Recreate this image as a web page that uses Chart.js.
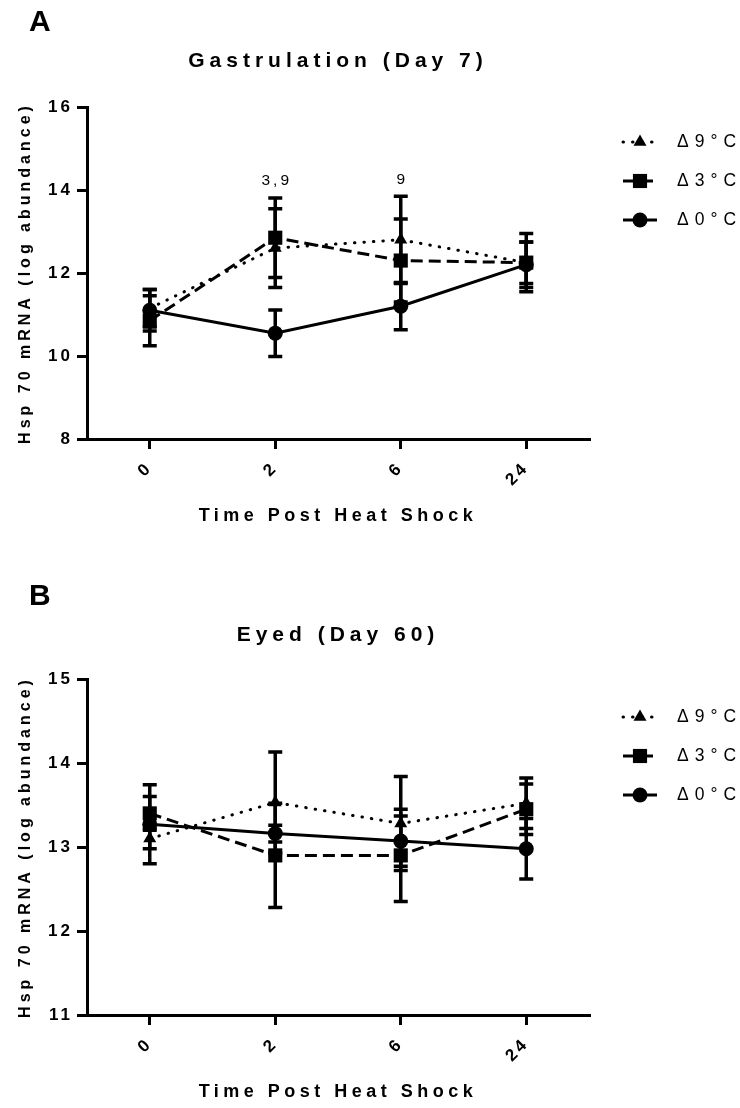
<!DOCTYPE html>
<html lang="en">
<head>
<meta charset="UTF-8">
<title>Hsp 70 mRNA after heat shock</title>
<script src="https://cdn.jsdelivr.net/npm/chart.js@4"></script>
<style>
  html, body { margin: 0; padding: 0; background: #fff; }
  body { width: 740px; height: 1108px; overflow: hidden; position: relative; }
  .panel { position: absolute; left: 0; width: 740px; }
  #panelA { top: 0; height: 574px; }
  #panelB { top: 574px; height: 534px; }
</style>
</head>
<body>
<div class="panel" id="panelA"><canvas id="chartA"></canvas></div>
<div class="panel" id="panelB"><canvas id="chartB"></canvas></div>
<script>
// hours after the heat shock
const hours = ['0', '2', '6', '24'];
const seriesNames = ['\u03949\u00b0C', '\u03943\u00b0C', '\u03940\u00b0C'];

// gastrulation (day 7), log abundance mean and SEM
const gastD9 = [11.15, 12.6, 12.8, 12.25];
const gastD9Err = [0.45, 0.95, 1.05, 0.5];
const gastD3 = [10.85, 12.85, 12.3, 12.25];
const gastD3Err = [0.6, 0.96, 1.0, 0.7];
const gastD0 = [11.1, 10.55, 11.2, 12.2];
const gastD0Err = [0.5, 0.56, 0.57, 0.55];
const gastSig = ['', '3,9', '9', ''];
const gastTicks = [8, 10, 12, 14, 16];

// eyed (day 60)
const eyedD9 = [13.1, 13.53, 13.28, 13.52];
const eyedD9Err = [0.12, 0.6, 0.56, 0.3];
const eyedD3 = [13.4, 12.9, 12.9, 13.45];
const eyedD3Err = [0.2, 0.62, 0.55, 0.3];
const eyedD0 = [13.27, 13.16, 13.07, 12.98];
const eyedD0Err = [0.47, 0.1, 0.3, 0.36];
const eyedSig = ['', '', '', ''];
const eyedTicks = [11, 12, 13, 14, 15];

const FONT = "'Liberation Sans', Arial, sans-serif";
Chart.defaults.font.family = FONT;
Chart.defaults.color = '#000';

// dotted / dashed / solid, one per temperature
const marks = [
  { style: 'triangle', radius: 7.5, dash: [0.5, 9], cap: 'round' },
  { style: 'rect', radius: 10, dash: [12, 6], cap: 'butt' },
  { style: 'circle', radius: 7.5, dash: [], cap: 'butt' }
];

// letter spacing (px) for the chart's own text, by font size
const tracking = { 21: 5, 18: 4.5, 17: 3, 16: 4 };

const spacing = {
  id: 'spacing',
  afterInit(chart) {
    const ctx = chart.ctx;
    const fill = ctx.fillText;
    const measure = ctx.measureText;
    const track = () => {
      const m = /(\d+(?:\.\d+)?)px/.exec(ctx.font);
      if (m && tracking[m[1]] !== undefined) ctx.letterSpacing = tracking[m[1]] + 'px';
    };
    ctx.fillText = function (...a) { track(); return fill.apply(ctx, a); };
    ctx.measureText = function (...a) { track(); return measure.apply(ctx, a); };
  }
};

const errorBars = {
  id: 'errorBars',
  beforeDatasetsDraw(chart) {
    const { ctx, scales: { x, y } } = chart;
    ctx.save();
    ctx.strokeStyle = '#000';
    ctx.lineWidth = 3.5;
    chart.data.datasets.forEach(ds => {
      ds.data.forEach((v, i) => {
        const px = x.getPixelForValue(i);
        const top = y.getPixelForValue(v + ds.errors[i]);
        const bot = y.getPixelForValue(v - ds.errors[i]);
        ctx.beginPath();
        ctx.moveTo(px, top); ctx.lineTo(px, bot);
        ctx.moveTo(px - 7, top); ctx.lineTo(px + 7, top);
        ctx.moveTo(px - 7, bot); ctx.lineTo(px + 7, bot);
        ctx.stroke();
      });
    });
    ctx.restore();
  }
};

// "3,9" style notes above the tallest error bar
const sigLabels = {
  id: 'sigLabels',
  afterDatasetsDraw(chart, args, opts) {
    const { ctx, scales: { x, y } } = chart;
    ctx.save();
    ctx.letterSpacing = '3px';
    ctx.font = '15.5px ' + FONT;
    ctx.fillStyle = '#000';
    ctx.textAlign = 'center';
    ctx.textBaseline = 'middle';
    (opts.labels || []).forEach((txt, i) => {
      if (!txt) return;
      const tops = chart.data.datasets.map(ds => y.getPixelForValue(ds.data[i] + ds.errors[i]));
      ctx.fillText(txt, x.getPixelForValue(i) + 1.5, Math.min(...tops) - 17);
    });
    ctx.restore();
  }
};

const sideLegend = {
  id: 'sideLegend',
  afterDraw(chart, args, opts) {
    const { ctx, chartArea } = chart;
    ctx.save();
    chart.data.datasets.forEach((ds, i) => {
      const yy = chartArea.top + opts.top + i * opts.gap;
      const m = marks[i];
      ctx.strokeStyle = '#000';
      ctx.fillStyle = '#000';
      ctx.lineWidth = 3;
      ctx.lineCap = m.cap;
      ctx.setLineDash(m.dash);
      ctx.beginPath();
      ctx.moveTo(opts.x, yy);
      ctx.lineTo(opts.x + 34, yy);
      ctx.stroke();
      ctx.setLineDash([]);
      Chart.helpers.drawPoint(ctx, { pointStyle: m.style, rotation: 0, radius: m.radius, borderWidth: 0 }, opts.x + 17, yy);
      ctx.letterSpacing = '6px';
      ctx.font = '17.5px ' + FONT;
      ctx.textAlign = 'left';
      ctx.textBaseline = 'middle';
      ctx.fillText(ds.label, opts.x + 54, yy);
    });
    ctx.restore();
  }
};

const panelLetter = {
  id: 'panelLetter',
  afterDraw(chart, args, opts) {
    const { ctx } = chart;
    ctx.save();
    ctx.letterSpacing = '0px';
    ctx.font = "bold 30px 'Liberation Sans Narrow', " + FONT;
    ctx.fillStyle = '#000';
    ctx.textBaseline = 'middle';
    ctx.fillText(opts.text, 29, 23);
    ctx.restore();
  }
};

function makePanel(canvasId, p) {
  const datasets = p.means.map((m, i) => ({
    label: seriesNames[i],
    data: m,
    errors: p.errors[i],
    borderColor: '#000',
    backgroundColor: '#000',
    borderWidth: 3,
    borderDash: marks[i].dash,
    borderCapStyle: marks[i].cap,
    pointStyle: marks[i].style,
    pointRadius: marks[i].radius,
    pointHoverRadius: marks[i].radius,
    pointBorderWidth: 0,
    tension: 0
  }));

  return new Chart(document.getElementById(canvasId), {
    type: 'line',
    data: { labels: hours, datasets },
    plugins: [spacing, errorBars, sigLabels, sideLegend, panelLetter],
    options: {
      responsive: true,
      maintainAspectRatio: false,
      animation: false,
      events: [],
      layout: { padding: { left: 0, right: 151, top: 0, bottom: 0 } },
      plugins: {
        legend: { display: false },
        tooltip: { enabled: false },
        title: {
          display: true,
          text: p.title,
          fullSize: false,
          font: { size: 21, weight: 'bold' },
          padding: { top: 49, bottom: p.top - 49 - 25.2 }
        },
        sigLabels: { labels: p.sig },
        sideLegend: { x: 623, top: p.legendTop, gap: 39 },
        panelLetter: { text: p.letter }
      },
      scales: {
        x: {
          offset: true,
          grid: { drawOnChartArea: false, tickLength: 10, lineWidth: 3, color: '#000' },
          border: { width: 3, color: '#000' },
          ticks: { font: { size: 17, weight: 'bold' }, minRotation: 45, maxRotation: 45, padding: 9 },
          title: {
            display: true,
            text: 'Time Post Heat Shock',
            font: { size: 18, weight: 'bold' },
            padding: { top: 0, bottom: p.xTitleGap }
          },
          afterFit(scale) { scale.height = p.height - p.bottom; }
        },
        y: {
          min: p.ticks[0],
          max: p.ticks[p.ticks.length - 1],
          afterBuildTicks(scale) { scale.ticks = p.ticks.map(v => ({ value: v })); },
          grid: { drawOnChartArea: false, tickLength: 10, lineWidth: 3, color: '#000' },
          border: { width: 3, color: '#000' },
          ticks: { font: { size: 17, weight: 'bold' }, padding: 4 },
          title: {
            display: true,
            text: 'Hsp 70 mRNA (log abundance)',
            font: { size: 16, weight: 'bold' },
            padding: { top: 16, bottom: 0 }
          },
          afterFit(scale) { scale.width = 87; }
        }
      }
    }
  });
}

makePanel('chartA', {
  letter: 'A',
  title: 'Gastrulation (Day 7)',
  means: [gastD9, gastD3, gastD0],
  errors: [gastD9Err, gastD3Err, gastD0Err],
  sig: gastSig,
  ticks: gastTicks,
  legendTop: 35,
  height: 574, top: 107, bottom: 439, xTitleGap: 47
});

makePanel('chartB', {
  letter: 'B',
  title: 'Eyed (Day 60)',
  means: [eyedD9, eyedD3, eyedD0],
  errors: [eyedD9Err, eyedD3Err, eyedD0Err],
  sig: eyedSig,
  ticks: eyedTicks,
  legendTop: 38,
  height: 534, top: 105, bottom: 441, xTitleGap: 5
});
</script>
</body>
</html>
